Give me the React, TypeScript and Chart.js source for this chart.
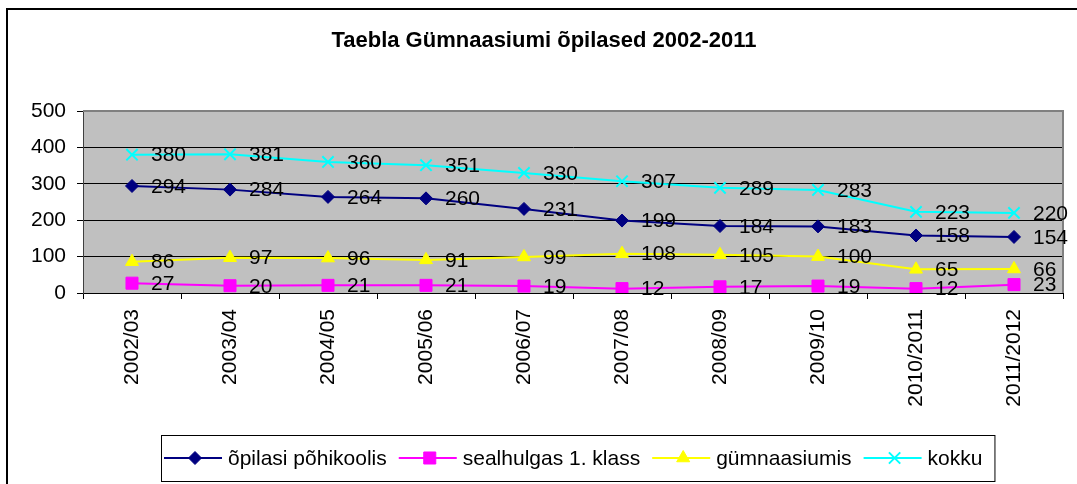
import React, { useEffect, useRef } from "react";
import { Chart, registerables } from "chart.js";
import { drawPoint } from "chart.js/helpers";

Chart.register(...registerables);

const titleText = "Taebla Gümnaasiumi õpilased 2002-2011";
const categories = [
  "2002/03",
  "2003/04",
  "2004/05",
  "2005/06",
  "2006/07",
  "2007/08",
  "2008/09",
  "2009/10",
  "2010/2011",
  "2011/2012",
];
const pohikoolis = [294, 284, 264, 260, 231, 199, 184, 183, 158, 154];
const esimeneKlass = [27, 20, 21, 21, 19, 12, 17, 19, 12, 23];
const gymnaasiumis = [86, 97, 96, 91, 99, 108, 105, 100, 65, 66];
const kokku = [380, 381, 360, 351, 330, 307, 289, 283, 223, 220];
const yTicks = [0, 100, 200, 300, 400, 500];

const FONT = "Arial, 'Liberation Sans', sans-serif";

const framePlugin = {
  id: "framePlugin",
  beforeDraw(chart: any) {
    const { ctx, chartArea } = chart;
    ctx.save();
    ctx.fillStyle = "#ffffff";
    ctx.fillRect(0, 0, chart.width, chart.height);
    ctx.strokeStyle = "#000000";
    ctx.lineWidth = 2;
    ctx.beginPath();
    ctx.moveTo(7, chart.height + 2);
    ctx.lineTo(7, 9);
    ctx.lineTo(chart.width + 2, 9);
    ctx.stroke();
    ctx.fillStyle = "#C0C0C0";
    ctx.fillRect(
      chartArea.left,
      chartArea.top,
      chartArea.right - chartArea.left,
      chartArea.bottom - chartArea.top
    );
    ctx.fillStyle = "#000";
    ctx.font = `bold 22px ${FONT}`;
    ctx.textAlign = "center";
    ctx.textBaseline = "middle";
    ctx.fillText(titleText, 544, 41);
    ctx.restore();
  },
  beforeDatasetsDraw(chart: any) {
    const { ctx, chartArea } = chart;
    ctx.save();
    ctx.strokeStyle = "#808080";
    ctx.lineWidth = 2;
    ctx.beginPath();
    ctx.moveTo(chartArea.left, chartArea.top);
    ctx.lineTo(chartArea.right, chartArea.top);
    ctx.lineTo(chartArea.right, chartArea.bottom);
    ctx.stroke();
    ctx.restore();
  },
  afterDatasetsDraw(chart: any) {
    const { ctx } = chart;
    ctx.save();
    ctx.fillStyle = "#000";
    ctx.font = `21px ${FONT}`;
    ctx.textAlign = "left";
    ctx.textBaseline = "middle";
    chart.data.datasets.forEach((ds: any, i: number) => {
      const meta = chart.getDatasetMeta(i);
      meta.data.forEach((pt: any, j: number) => {
        ctx.fillText(String(ds.data[j]), pt.x + 19, pt.y + 1);
      });
    });
    ctx.restore();
  },
  afterDraw(chart: any) {
    const { ctx } = chart;
    ctx.save();
    ctx.font = `21px ${FONT}`;
    ctx.textBaseline = "middle";
    ctx.textAlign = "left";
    const cy = 458;
    let x = 164;
    const items = chart.data.datasets;
    let endX = x;
    const positions: number[] = [];
    items.forEach((ds: any) => {
      positions.push(x);
      const w = ctx.measureText(ds.label).width;
      endX = x + 64 + w;
      x = endX + 12;
    });
    ctx.fillStyle = "#fff";
    ctx.fillRect(161, 435, endX + 12 - 161, 46);
    ctx.strokeStyle = "#000";
    ctx.lineWidth = 1;
    ctx.strokeRect(161.5, 435.5, endX + 12 - 161, 46);
    items.forEach((ds: any, i: number) => {
      const sx = positions[i];
      ctx.strokeStyle = ds.borderColor;
      ctx.lineWidth = 2;
      ctx.beginPath();
      ctx.moveTo(sx, cy);
      ctx.lineTo(sx + 58, cy);
      ctx.stroke();
      ctx.fillStyle = ds.pointBackgroundColor;
      ctx.strokeStyle = ds.pointBorderColor;
      ctx.lineWidth = ds.pointBorderWidth;
      drawPoint(
        ctx,
        { pointStyle: ds.pointStyle, radius: ds.pointRadius, borderWidth: ds.pointBorderWidth, rotation: 0 },
        sx + 31,
        cy
      );
      ctx.fillStyle = "#000";
      ctx.fillText(ds.label, sx + 64, cy + 1);
    });
    ctx.restore();
  },
};

export default function App() {
  const ref = useRef<HTMLCanvasElement | null>(null);
  useEffect(() => {
    document.body.style.margin = "0";
    const canvas = ref.current!;
    const chart = new Chart(canvas, {
      type: "line",
      data: {
        labels: categories,
        datasets: [
          {
            label: "õpilasi põhikoolis",
            data: pohikoolis,
            borderColor: "#000080",
            backgroundColor: "#000080",
            pointBackgroundColor: "#000080",
            pointBorderColor: "#000080",
            pointBorderWidth: 1,
            pointStyle: "rectRot",
            pointRadius: 6.5,
            borderWidth: 2,
          },
          {
            label: "sealhulgas 1. klass",
            data: esimeneKlass,
            borderColor: "#FF00FF",
            backgroundColor: "#FF00FF",
            pointBackgroundColor: "#FF00FF",
            pointBorderColor: "#FF00FF",
            pointBorderWidth: 1,
            pointStyle: "rect",
            pointRadius: 8.5,
            borderWidth: 2,
          },
          {
            label: "gümnaasiumis",
            data: gymnaasiumis,
            borderColor: "#FFFF00",
            backgroundColor: "#FFFF00",
            pointBackgroundColor: "#FFFF00",
            pointBorderColor: "#FFFF00",
            pointBorderWidth: 1,
            pointStyle: "triangle",
            pointRadius: 7.5,
            borderWidth: 2,
          },
          {
            label: "kokku",
            data: kokku,
            borderColor: "#00FFFF",
            backgroundColor: "#00FFFF",
            pointBackgroundColor: "#00FFFF",
            pointBorderColor: "#00FFFF",
            pointBorderWidth: 2,
            pointStyle: "crossRot",
            pointRadius: 8,
            borderWidth: 2,
          },
        ],
      },
      options: {
        responsive: false,
        animation: false,
        events: [],
        layout: { padding: { left: 0, right: 14, top: 111, bottom: 0 } },
        plugins: {
          legend: { display: false },
          title: { display: false },
          tooltip: { enabled: false },
        },
        scales: {
          x: {
            type: "category",
            offset: true,
            grid: {
              offset: true,
              drawOnChartArea: false,
              drawTicks: true,
              tickLength: 6,
              color: "#000",
              tickColor: "#000",
            },
            border: { color: "#000", width: 1 },
            ticks: {
              minRotation: 90,
              maxRotation: 90,
              autoSkip: false,
              padding: 10,
              color: "#000",
              font: { family: FONT, size: 21 },
            },
            afterFit(scale: any) {
              scale.height = 191;
              scale.paddingLeft = 0;
              scale.paddingRight = 0;
            },
          },
          y: {
            min: 0,
            max: 500,
            afterBuildTicks(scale: any) {
              scale.ticks = yTicks.map((v) => ({ value: v }));
            },
            grid: {
              color: (c: any) => (c.tick && c.tick.value === 500 ? "#808080" : "#000"),
              tickColor: "#000",
              tickLength: 6,
              lineWidth: 1,
            },
            border: { color: "#404040", width: 1 },
            ticks: {
              padding: 11,
              color: "#000",
              font: { family: FONT, size: 21 },
            },
            afterFit(scale: any) {
              scale.width = 83;
              scale.paddingTop = 0;
              scale.paddingBottom = 0;
            },
          },
        },
      },
      plugins: [framePlugin],
    } as any);
    return () => chart.destroy();
  }, []);
  return (
    <div style={{ position: "relative", width: 1077, height: 484 }}>
      <canvas ref={ref} width={1077} height={484} style={{ width: 1077, height: 484, display: "block" }} />
    </div>
  );
}
